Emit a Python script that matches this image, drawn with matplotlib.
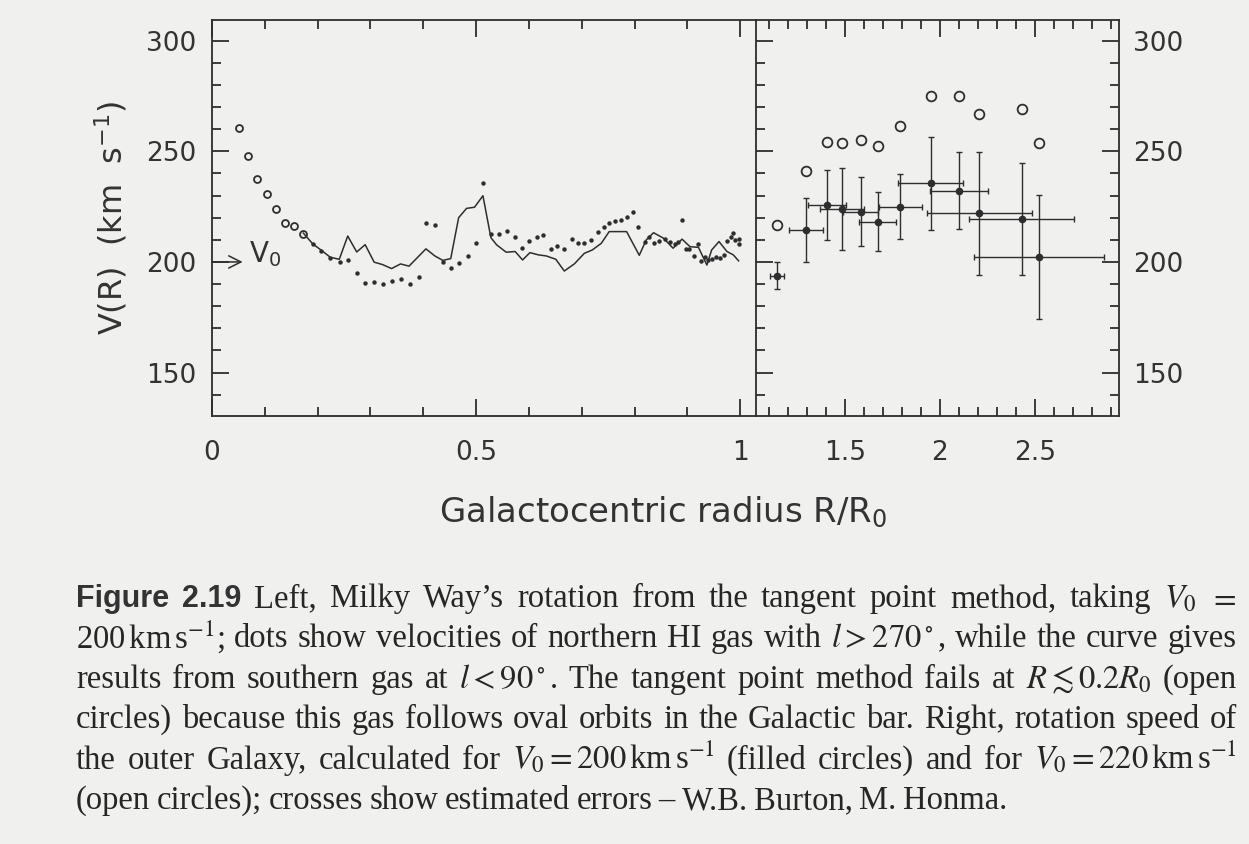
import numpy as np
import matplotlib.pyplot as plt
from matplotlib.ticker import MultipleLocator

# ---- left panel: inner Galaxy ----
# open circles (R < 0.2 R0, tangent point method fails)
r_open = [0.051, 0.069, 0.086, 0.104, 0.121, 0.138, 0.156, 0.173]
v_open = [260.5, 247.9, 237.3, 230.7, 224.1, 217.5, 216.1, 212.5]

# dots: northern HI gas, l > 270
r_dots = [0.191, 0.207, 0.224, 0.242, 0.258, 0.274, 0.290, 0.307, 0.324, 0.341,
          0.357, 0.374, 0.391, 0.405, 0.422, 0.438, 0.453, 0.468, 0.484, 0.499,
          0.513, 0.528, 0.544, 0.558, 0.573, 0.587, 0.601, 0.615, 0.627, 0.642,
          0.654, 0.667, 0.681, 0.693, 0.705, 0.717, 0.730, 0.742, 0.752, 0.763,
          0.774, 0.785, 0.797, 0.807, 0.820, 0.828, 0.837, 0.847, 0.858, 0.867,
          0.877, 0.883, 0.890, 0.898, 0.904, 0.912, 0.920, 0.926, 0.934, 0.940,
          0.947, 0.954, 0.961, 0.970, 0.976, 0.982, 0.987, 0.990, 0.997, 0.997]
v_dots = [208.0, 205.1, 201.8, 200.1, 200.8, 195.2, 190.5, 191.1, 189.9, 191.4,
          192.5, 190.2, 193.1, 217.8, 216.5, 199.9, 197.2, 199.5, 202.8, 208.4,
          235.5, 212.6, 212.6, 214.1, 211.1, 206.5, 209.3, 211.1, 212.2, 205.9,
          207.2, 206.0, 210.5, 208.4, 208.7, 209.9, 213.7, 216.0, 217.5, 218.5,
          218.8, 220.5, 222.4, 216.0, 209.2, 211.1, 208.4, 209.6, 210.3, 208.9,
          208.0, 209.2, 219.0, 205.7, 206.0, 202.7, 208.0, 200.5, 202.1, 200.9,
          201.4, 202.4, 201.7, 203.2, 209.6, 211.4, 213.2, 209.9, 210.3, 208.0]

# curve: southern gas, l < 90
r_curve = [0.173, 0.191, 0.208, 0.224, 0.241, 0.257, 0.274, 0.290, 0.307, 0.323,
           0.340, 0.357, 0.373, 0.405, 0.422, 0.437, 0.452, 0.467, 0.482, 0.497,
           0.513, 0.528, 0.539, 0.557, 0.574, 0.588, 0.602, 0.618, 0.633, 0.651,
           0.667, 0.686, 0.705, 0.720, 0.737, 0.752, 0.785, 0.809, 0.822, 0.836,
           0.855, 0.873, 0.890, 0.905, 0.921, 0.937, 0.946, 0.960, 0.975, 0.987,
           0.997]
v_curve = [213.0, 208.1, 205.1, 202.1, 201.2, 211.7, 204.5, 207.8, 199.9, 198.8,
           197.0, 199.1, 198.1, 205.9, 202.7, 200.7, 201.5, 220.0, 224.2, 224.7,
           229.9, 211.0, 207.7, 204.4, 204.7, 200.9, 204.2, 203.2, 202.7, 201.2,
           195.9, 199.1, 203.9, 205.4, 208.4, 213.7, 213.7, 203.0, 209.9, 213.2,
           210.7, 206.2, 210.3, 206.9, 206.6, 198.6, 205.4, 209.2, 204.7, 203.2,
           200.5]

# ---- right panel: outer Galaxy ----
r_out = [1.142, 1.296, 1.405, 1.486, 1.584, 1.674, 1.793, 1.953, 2.102, 2.209, 2.432, 2.523]
v_200 = [193.8, 214.5, 225.7, 223.8, 222.7, 218.2, 225.0, 235.5, 232.2, 222.0, 219.4, 202.4]
v_220 = [216.6, 241.1, 254.2, 253.9, 255.0, 252.4, 261.6, 275.0, 275.0, 267.0, 269.0, 253.6]
r_err = [0.037, 0.088, 0.100, 0.117, 0.092, 0.098, 0.114, 0.171, 0.154, 0.275, 0.277, 0.344]
v_err = [6.2, 14.5, 16.0, 18.5, 15.5, 13.3, 14.8, 21.0, 17.3, 27.7, 25.2, 28.0]

paper = '#f0f0ef'
ink = '#2e2e2e'
W, H = 1249, 844

fig = plt.figure(figsize=(W / 100, H / 100), dpi=100, facecolor=paper)
axl = fig.add_axes([212 / W, 1 - 416 / H, 544 / W, 396 / H])
axr = fig.add_axes([756 / W, 1 - 416 / H, 363 / W, 396 / H])

for ax in (axl, axr):
    ax.set_facecolor('none')
    ax.set_ylim(130.4, 309.3)
    ax.yaxis.set_major_locator(MultipleLocator(50))
    ax.yaxis.set_minor_locator(MultipleLocator(10))
    ax.xaxis.set_minor_locator(MultipleLocator(0.1))
    for s in ax.spines.values():
        s.set_color(ink)
        s.set_linewidth(1.3)
    ax.tick_params(which='both', direction='in', color=ink, width=1.3,
                   labelcolor='#333333', labelsize=19)
    ax.tick_params(which='major', length=12)
    ax.tick_params(which='minor', length=6.5)
    ax.tick_params(axis='x', which='both', top=True, pad=17)

axl.set_xlim(0, 1.03)
axl.set_xticks([0, 0.5, 1])
axl.set_xticklabels(['0', '0.5', '1'])
axl.tick_params(axis='y', which='both', left=True, right=False, pad=11)

axr.set_xlim(1.033, 2.944)
axr.set_xticks([1.5, 2, 2.5])
axr.set_xticklabels(['1.5', '2', '2.5'])
axr.tick_params(axis='y', which='both', left=True, right=True,
                labelleft=False, labelright=True, pad=10)
axr.spines['left'].set_visible(False)

# left panel data
axl.plot(r_open, v_open, 'o', ms=5, mfc='none', mec=ink, mew=1.3)
axl.plot(r_dots, v_dots, 'o', ms=3.2, color=ink, mew=0)
axl.plot(r_curve, v_curve, '-', color=ink, lw=1.1)
axl.annotate('', xy=(0.058, 200), xytext=(0, 200),
             arrowprops=dict(arrowstyle='->', color=ink, lw=1.1,
                             mutation_scale=22, shrinkA=0, shrinkB=0))
axl.text(0.071, 203.5, 'V$_0$', fontsize=20, color='#333333', va='center',
         math_fontfamily='dejavusans')

# right panel data
axr.errorbar(r_out, v_200, xerr=r_err, yerr=v_err, fmt='o', ms=4.5,
             color=ink, ecolor=ink, elinewidth=1.0, capsize=2.5, capthick=1.0)
axr.plot(r_out, v_220, 'o', ms=7, mfc='none', mec=ink, mew=1.3)

axl.set_ylabel('V(R)  (km  s$^{-1}$)', fontsize=23, color='#333333',
               labelpad=12, math_fontfamily='dejavusans')
fig.text(663 / W, 1 - 512 / H, 'Galactocentric radius R/R$_0$', fontsize=24.5,
         color='#333333', ha='center', va='center', math_fontfamily='dejavusans')

# ---- caption, justified line by line ----
B = 'bold'
cap_lines = [
    [('Figure', B), ('2.19', B), 'Left,', 'Milky', 'Way\u2019s', 'rotation', 'from', 'the',
     'tangent', 'point', 'method,', 'taking', '$V_0$', '$=$'],
    ['200$\\,$km$\\,$s$^{-1}$;', 'dots', 'show', 'velocities', 'of', 'northern', 'HI',
     'gas', 'with', '$l>270^\\circ$,', 'while', 'the', 'curve', 'gives'],
    ['results', 'from', 'southern', 'gas', 'at', '$l<90^\\circ$.', 'The', 'tangent',
     'point', 'method', 'fails', 'at', '$R\\lesssim0.2R_0$', '(open'],
    ['circles)', 'because', 'this', 'gas', 'follows', 'oval', 'orbits', 'in', 'the',
     'Galactic', 'bar.', 'Right,', 'rotation', 'speed', 'of'],
    ['the', 'outer', 'Galaxy,', 'calculated', 'for', '$V_0=200\\,$km$\\,$s$^{-1}$',
     '(filled', 'circles)', 'and', 'for', '$V_0=220\\,$km$\\,$s$^{-1}$'],
    ['(open', 'circles);', 'crosses', 'show', 'estimated', 'errors', '\u2013', 'W.B.',
     'Burton,', 'M.', 'Honma.'],
]

x0, x1 = 76, 1237
base0, step = 607, 40.4
renderer = fig.canvas.get_renderer()
for i, line in enumerate(cap_lines):
    yb = 1 - (base0 + i * step) / H
    texts = []
    for tok in line:
        if isinstance(tok, tuple):
            t = fig.text(0, yb, tok[0], fontsize=22, fontweight='bold',
                         family='Liberation Sans', color='#333333', va='baseline')
        else:
            t = fig.text(0, yb, tok, fontsize=23.5, family='Liberation Serif',
                         color='#262626', va='baseline', math_fontfamily='stix')
        texts.append(t)
    widths = [t.get_window_extent(renderer).width for t in texts]
    if i == len(cap_lines) - 1:
        gap = 6.5
    else:
        gap = (x1 - x0 - sum(widths)) / (len(texts) - 1)
    x = x0
    for t, w in zip(texts, widths):
        t.set_x(x / W)
        x += w + gap

fig.savefig('out.png', dpi=100, facecolor=paper)
